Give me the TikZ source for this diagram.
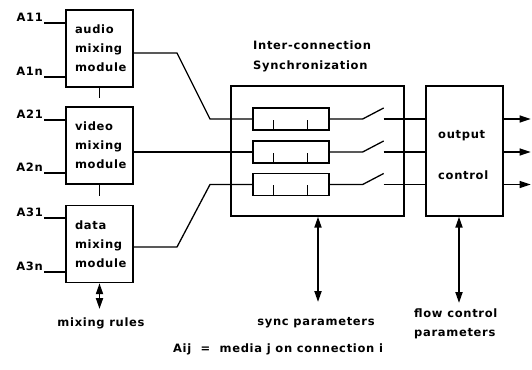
\documentclass[tikz,border=0pt]{standalone}
\usepackage{fontspec}
\setmainfont{DejaVu Sans}[LetterSpace=6,BoldFont={DejaVu Sans Bold}]
\usetikzlibrary{arrows.meta,calc}
\tikzset{
  box/.style={draw, line width=1.4pt, inner sep=0pt},
  modbox/.style={box, minimum width=67pt, minimum height=77pt, align=left,
    text width=49pt, font=\fontsize{11.5}{19}\selectfont\bfseries},
  buf/.style={box, line width=1.3pt, minimum width=76pt, minimum height=22pt},
  lab/.style={font=\fontsize{11.5}{13}\selectfont\bfseries, inner sep=1pt},
  wire/.style={line width=1.3pt},
  dbl/.style={line width=1.9pt, {Triangle[length=11pt,width=7pt]}-{Triangle[length=11pt,width=7pt]}},
  outarr/.style={line width=1.3pt, -{Triangle[length=11pt,width=7pt]}}
}
\begin{document}
\begin{tikzpicture}[x=1pt,y=-1pt]
\useasboundingbox (0,0) rectangle (532,369);
% modules
\node[modbox] (audio) at (99.5,48.5) {audio\\mixing\\module};
\node[modbox] (video) at (99.5,145.5) {video\\mixing\\module};
\node[modbox] (data) at (99.5,244) {data\\mixing\\module};
% input labels
\node[lab, anchor=south east] (a11) at (44,23) {A11};
\node[lab, anchor=south east] (a1n) at (44,77) {A1n};
\node[lab, anchor=south east] (a21) at (44,120) {A21};
\node[lab, anchor=south east] (a2n) at (44,173) {A2n};
\node[lab, anchor=south east] (a31) at (44,218) {A31};
\node[lab, anchor=south east] (a3n) at (44,272) {A3n};
\foreach \n in {a11,a1n} \draw[wire] (\n.south east) -- (audio.west |- \n.south east);
\foreach \n in {a21,a2n} \draw[wire] (\n.south east) -- (video.west |- \n.south east);
\foreach \n in {a31,a3n} \draw[wire] (\n.south east) -- (data.west |- \n.south east);
% stubs
\draw[wire] (audio.south) -- ++(0,10) coordinate (st1);
\draw[wire] (video.south) -- ++(0,11) coordinate (st2);
% mixing rules
\node[lab] (mix) at (101,323) {mixing rules};
\draw[dbl] (data.south) -- (data.south |- 0,309) coordinate (mr);
% sync box
\node[box, minimum width=173pt, minimum height=130pt] (sync) at (317.5,151) {};
\node[lab, anchor=north west, align=left, font=\fontsize{11.5}{20}\selectfont\bfseries] (synct) at (252,40) {Inter-connection\\Synchronization};
\node[buf] (b1) at (291,119) {};
\node[buf] (b2) at (291,152) {};
\node[buf] (b3) at (291,184.5) {};
\foreach \b in {b1,b2,b3} {
  \draw[wire] ($(\b.south west)!0.276!(\b.south east)$) -- ++(0,-11);
  \draw[wire] ($(\b.south west)!0.71!(\b.south east)$) -- ++(0,-11);
}
% output control
\node[box, minimum width=77pt, minimum height=130pt] (oc) at (464.5,151) {};
\node[lab, anchor=west] (oct1) at (437,136) {output};
\node[lab, anchor=west] (oct2) at (437,175) {control};
% module outputs
\coordinate (k1) at (177,53); \coordinate (k2) at (210,119);
\draw[wire] (audio.east |- k1) -- (k1) -- (k2) -- (b1.west);
\draw[wire] (video.east |- b2.west) -- (b2.west);
\coordinate (k3) at (177,247); \coordinate (k4) at (210,184.5);
\draw[wire] (data.east |- k3) -- (k3) -- (k4) -- (b3.west);
% switches
\foreach \b/\i in {b1/1,b2/2,b3/3} {
  \coordinate (sa\i) at ($(\b.east)+(33,0)$);
  \coordinate (sb\i) at ($(\b.east)+(54,-11)$);
  \coordinate (sc\i) at ($(\b.east)+(54,0)$);
  \draw[wire] (\b.east) -- (sa\i) -- (sb\i);
  \draw[wire] (sc\i) -- (oc.west |- sc\i);
  \coordinate (o\i) at ($(oc.east |- sc\i)+(27,0)$);
  \draw[outarr] (oc.east |- sc\i) -- (o\i);
}
% sync parameters
\node[lab] (syncp) at (316,323) {sync parameters};
\draw[dbl] (sync.south -| 318,0) -- (318,302) coordinate (sp);
% flow control
\node[lab, align=left, anchor=north west, font=\fontsize{11.5}{19}\selectfont\bfseries] (flow) at (413,308) {flow control\\parameters};
\draw[dbl] (oc.south -| 459,0) -- (459,303) coordinate (fp);
% legend
\node[lab] (legend) at (278,349) {Aij\ \ =\ \ media j on connection i};
\end{tikzpicture}
\end{document}
